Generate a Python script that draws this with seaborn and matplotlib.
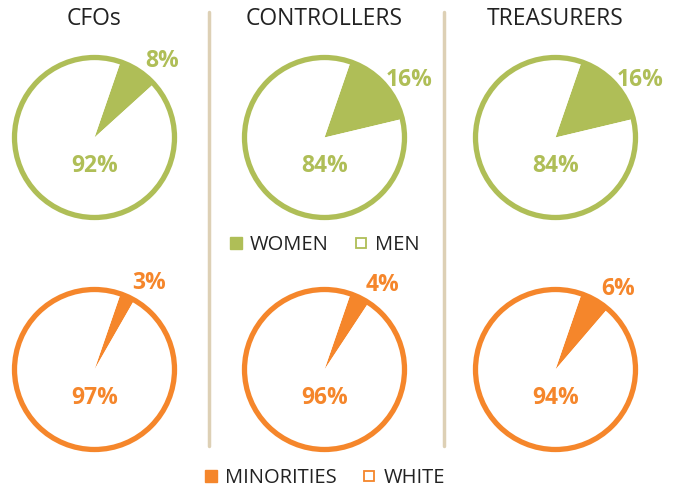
import matplotlib.pyplot as plt
import seaborn as sns
import numpy as np
from matplotlib.lines import Line2D
from matplotlib.patches import Circle

# dados
cargos = ['CFOs', 'CONTROLLERS', 'TREASURERS']
mulheres = [8, 16, 16]
homens = [92, 84, 84]
minorias = [3, 4, 6]
brancos = [97, 96, 94]

verde = '#AFBE57'
laranja = '#F5862B'
bege = '#DDD0B5'
texto = '#222222'

sns.set_theme(style='white')
plt.rcParams['font.family'] = ['Open Sans', 'DejaVu Sans']

W, H = 676, 487
fig = plt.figure(figsize=(W / 100, H / 100), dpi=100)
fig.patch.set_facecolor('white')

cx = [94.5, 324.5, 555.5]
cy = [137.5, 369.5]
raio = 80
lim = 1.35
inicio = 19  # graus a partir do topo, sentido horário


def desenha_pizza(x, y, valores, cor):
    tam = 2 * lim * raio
    ax = fig.add_axes([(x - tam / 2) / W, 1 - (y + tam / 2) / H, tam / W, tam / H])
    ax.pie(valores, colors=[cor, 'white'], startangle=90 - inicio, counterclock=False,
           radius=1, wedgeprops=dict(linewidth=0))
    ax.add_patch(Circle((0, 0), 1, fill=False, edgecolor=cor, linewidth=3.8))
    ax.set_xlim(-lim, lim)
    ax.set_ylim(-lim, lim)
    ax.set_aspect('equal')
    ax.axis('off')
    frac = valores[0] / sum(valores)
    ang = np.radians(inicio + frac * 360 / 2 + 8)
    ax.text(1.28 * np.sin(ang), 1.28 * np.cos(ang), f'{valores[0]}%', color=cor,
            fontsize=16.5, fontweight='bold', ha='center', va='center')
    ax.text(0, -0.36, f'{valores[1]}%', color=cor, fontsize=16.5, fontweight='bold',
            ha='center', va='center')


for i, cargo in enumerate(cargos):
    desenha_pizza(cx[i], cy[0], [mulheres[i], homens[i]], verde)
    desenha_pizza(cx[i], cy[1], [minorias[i], brancos[i]], laranja)
    fig.text(cx[i] / W, 1 - 19 / H, cargo, color=texto, fontsize=16.5,
             ha='center', va='center')

# divisores
for xd in [209, 444]:
    fig.add_artist(Line2D([xd / W, xd / W], [1 - 12 / H, 1 - 446 / H],
                          color=bege, linewidth=2.5))


def legenda(rotulos, cor, x, y):
    handles = [
        Line2D([], [], marker='s', linestyle='none', markersize=8,
               markerfacecolor=cor, markeredgecolor=cor),
        Line2D([], [], marker='s', linestyle='none', markersize=7,
               markerfacecolor='white', markeredgecolor=cor, markeredgewidth=1.3),
    ]
    fig.legend(handles, rotulos, loc='center', bbox_to_anchor=(x / W, 1 - y / H),
               ncol=2, frameon=False, fontsize=14.5, handlelength=0.6,
               handletextpad=0.4, columnspacing=1.3, labelcolor=texto,
               borderpad=0.1)


legenda(['WOMEN', 'MEN'], verde, 325, 245)
legenda(['MINORITIES', 'WHITE'], laranja, 325, 478)

fig.savefig('out.png', dpi=100, facecolor='white')
